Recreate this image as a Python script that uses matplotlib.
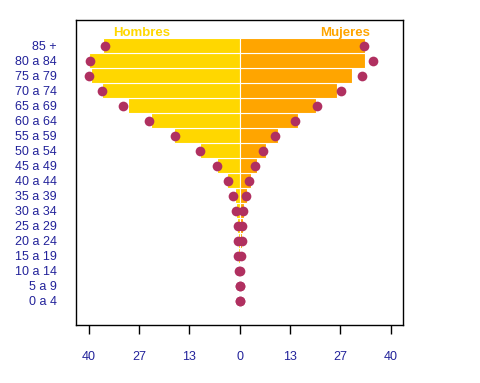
import matplotlib
matplotlib.use('Agg')
import matplotlib.pyplot as plt
import numpy as np

plt.rcParams['font.family'] = ['Liberation Sans', 'DejaVu Sans']

# age groups, bottom to top
grupos = ['0 a 4', '5 a 9', '10 a 14', '15 a 19', '20 a 24', '25 a 29', '30 a 34',
          '35 a 39', '40 a 44', '45 a 49', '50 a 54', '55 a 59', '60 a 64',
          '65 a 69', '70 a 74', '75 a 79', '80 a 84', '85 +']
# bars (percent)
hombres = [0.0, 0.0, 0.2, 0.45, 0.5, 0.6, 1.05, 1.3, 3.4, 6.1, 10.6, 17.5, 23.6,
           29.7, 36.6, 39.3, 40.0, 36.3]
mujeres = [0.0, 0.0, 0.2, 0.4, 0.6, 0.8, 1.05, 1.85, 2.9, 4.5, 6.9, 10.1, 15.4,
           20.2, 25.7, 29.7, 33.2, 33.2]
# points
hombres_pt = [0.0, 0.0, 0.2, 0.35, 0.5, 0.5, 0.85, 1.75, 3.1, 6.0, 10.5, 17.2, 24.1,
              31.0, 36.5, 40.0, 39.7, 35.7]
mujeres_pt = [0.0, 0.0, 0.2, 0.35, 0.5, 0.5, 0.85, 1.7, 2.5, 4.1, 6.2, 9.4, 14.7,
              20.5, 26.9, 32.5, 35.4, 33.0]
ticks = [-40, -80/3, -40/3, 0, 40/3, 80/3, 40]
tick_lbl = ['40', '27', '13', '0', '13', '27', '40']

txt = '#22229a'
fig = plt.figure(figsize=(4.8, 3.83), dpi=100)
ax = fig.add_axes([76/480, 1-325/383, (403-76)/480, (325-19.7)/383])

y = np.arange(1, len(grupos)+1)
ax.barh(y, -np.array(hombres), height=0.97, color='#FFD700', edgecolor='white', linewidth=0.8)
ax.barh(y, mujeres, height=0.97, color='#FFA500', edgecolor='white', linewidth=0.8)
ax.plot(-np.array(hombres_pt), y, 'o', color='#B03060', ms=7, mew=0)
ax.plot(mujeres_pt, y, 'o', color='#B03060', ms=7, mew=0)

ax.text(-26.1, 18.87, 'Hombres', color='#FFD700', fontsize=9.5, fontweight='bold', ha='center', va='center')
ax.text(28.0, 18.87, 'Mujeres', color='#FFA500', fontsize=9.5, fontweight='bold', ha='center', va='center')

ax.set_xlim(-43.4, 43.3)
ax.set_ylim(-0.62, 19.73)
ax.set_xticks(ticks)
ax.set_xticklabels(tick_lbl, color=txt, fontsize=9)
ax.tick_params(axis='x', direction='out', length=6.5, width=1, pad=12)
ax.set_yticks(y)
ax.set_yticklabels(grupos, color=txt, fontsize=9)
ax.tick_params(axis='y', length=0, pad=14)
for s in ax.spines.values():
    s.set_linewidth(1)
fig.savefig('out.png', dpi=100)
